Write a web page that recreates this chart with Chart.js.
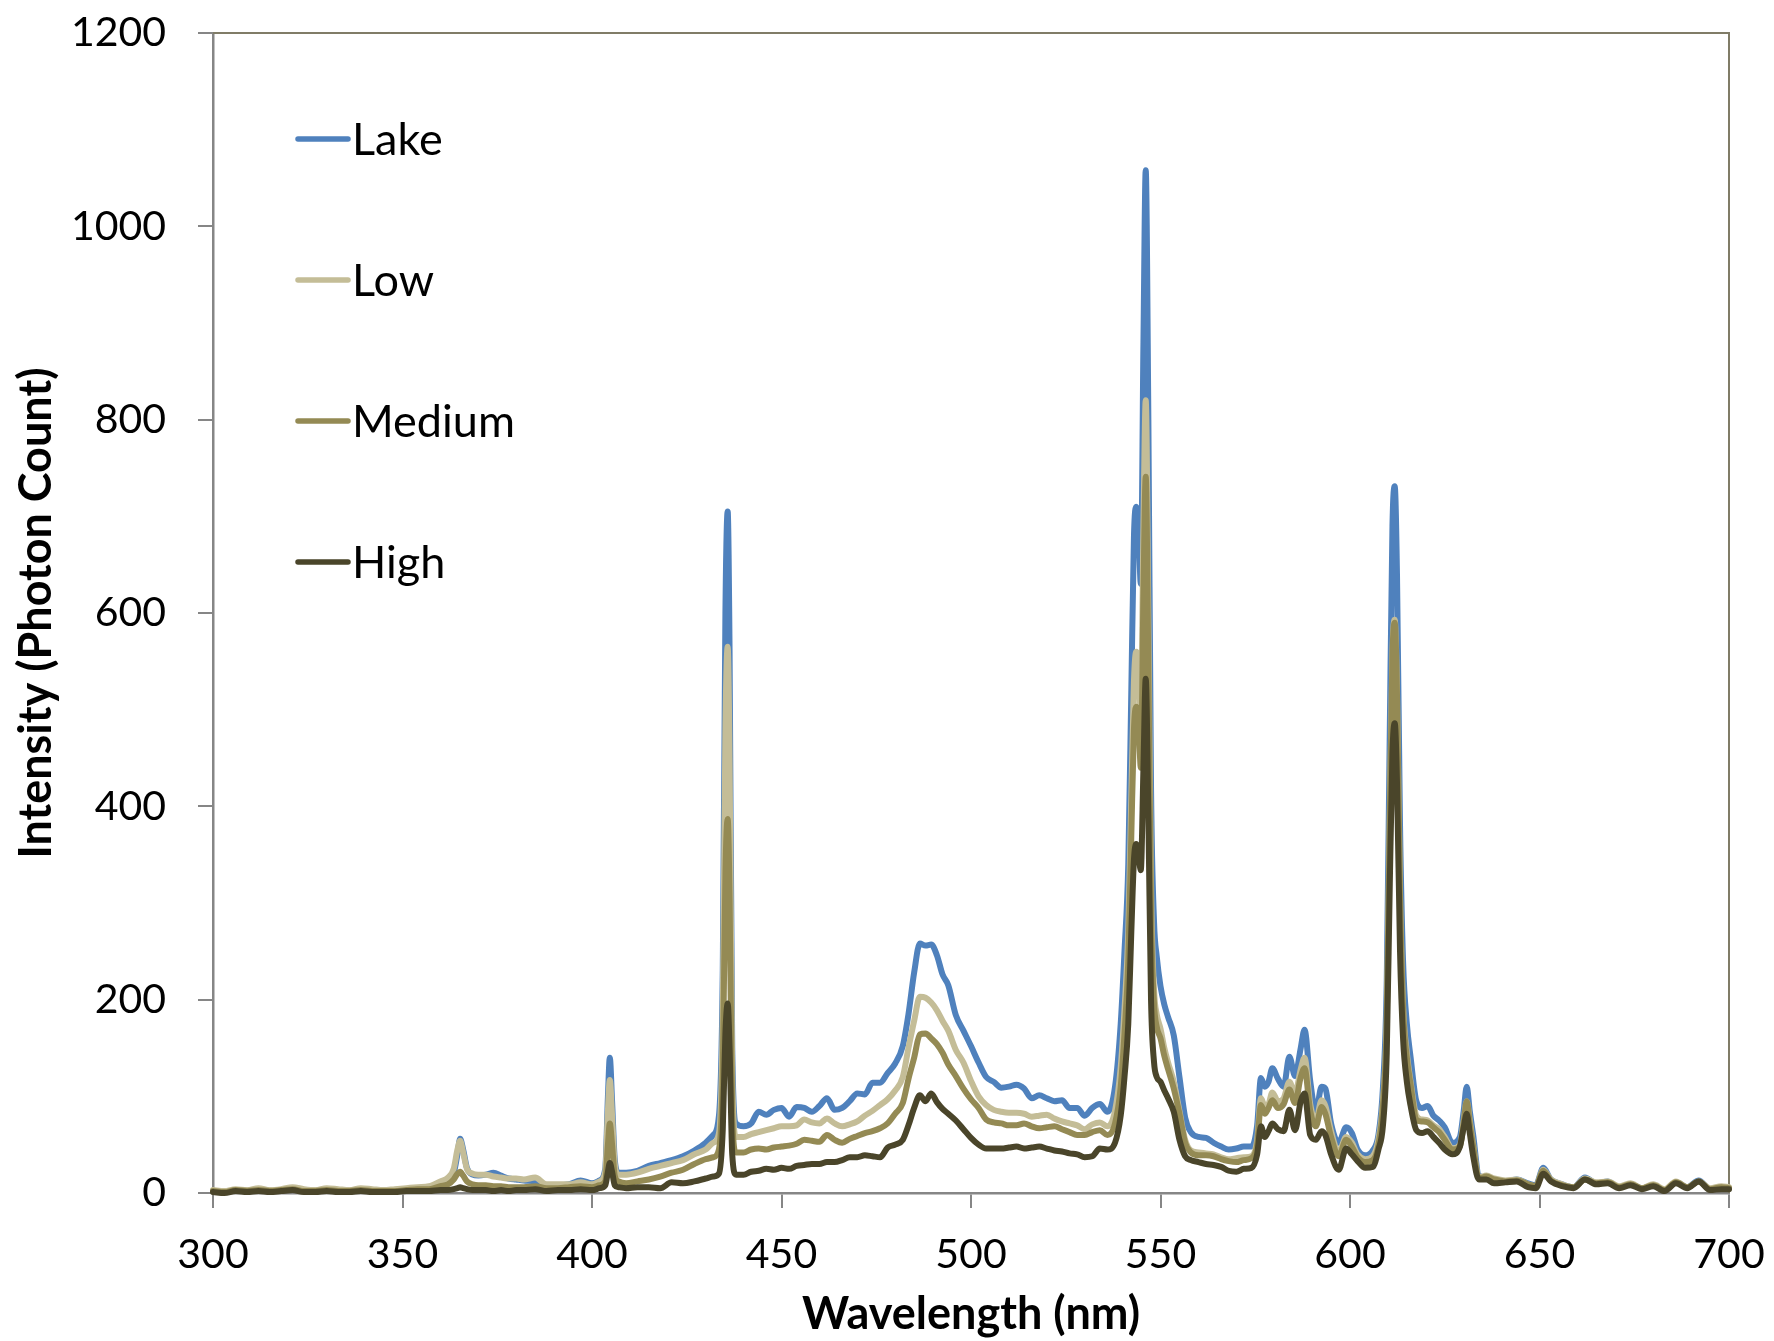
<!DOCTYPE html>
<html>
<head>
<meta charset="utf-8">
<script src="https://cdn.jsdelivr.net/npm/chart.js@4.4.1/dist/chart.umd.min.js"></script>
<style>
  html, body { margin: 0; padding: 0; background: #fff; }
</style>
</head>
<body>
<canvas id="spectrum" width="1774" height="1341"></canvas>
<script>
// wavelengths (nm), sampled denser around the emission lines
const wavelength = [
  300,303,306,309,312,315,318,321,324,327,330,333,336,339,342,345,348,351,354,
  357,360,362,363.5,364.5,365.2,366,367,368.5,370,372,374,376,378,380,382,385,388,391,394,397,400,402,
  403.5,404.2,404.7,405.3,406,407,409,412,415,418,421,424,427,430,432,433.5,434.5,435.2,435.8,436.3,437,438,
  440,442,444,446,448,450,452,454,456,458,460,462,464,466,468,470,472,474,476,478,480,482,
  483.5,485,486.5,488,489.5,491,492.5,494,496,498,500,502,504,506,508,510,512,514,516,518,520,522,524,526,528,530,532,534,536,538,
  539.5,540.5,541.5,542.3,543,543.6,544.2,544.8,545.5,546.1,546.8,547.5,548.3,549,550,551,552,553.5,555,556.5,558,560,562,564,566,568,570,572,574,
  575.5,576.5,577.5,578.5,579.5,581,582.5,584,585.5,587,588,589.5,591,592.5,593.5,595,597,599,600.5,602,604,606,607.5,
  608.7,609.7,610.5,611.2,611.8,612.4,613.2,614,615,616,617.5,619,620.5,622,623.5,625,627,629,630,630.8,631.6,632.5,634,
  636,638,641,644,647,649,651,653,656,659,662,665,668,671,674,677,680,683,686,689,692,695,698,700
];

const lake = [
  2,1,3,2,4,2,3,5,3,2,4,3,2,4,3,2,3,4,5,
  6,9,12,20,40,56,45,26,19,18,19,21,18,15,14,13,12,8,8,9,13,10,13,
  25,100,140,95,35,21,21,23,28,31,34,38,44,52,60,80,230,600,705,560,150,72,
  69,72,84,81,86,88,79,89,88,84,90,98,86,88,95,103,102,114,114,124,134,152,
  185,228,258,256,257,246,226,215,184,168,152,135,120,115,109,110,112,108,98,101,98,95,96,88,88,80,88,92,84,110,
  175,250,340,520,680,710,690,630,880,1058,800,420,280,245,214,195,182,163,120,78,63,58,57,52,48,45,46,48,48,
  70,119,110,115,129,118,110,141,121,150,169,116,84,110,108,72,52,68,62,45,39,44,60,
  110,220,480,690,731,640,380,240,175,140,95,88,90,80,75,68,52,58,85,110,85,60,18,
  16,13,12,14,10,8,26,14,9,6,16,10,12,6,9,5,8,3,11,6,13,4,6,5
];

const low = [
  3,2,4,3,5,3,4,6,4,3,5,4,3,5,4,3,4,5,6,
  7,12,16,25,45,54,42,25,20,19,19,17,16,15,15,14,16,9,9,9,11,9,12,
  22,85,117,80,30,19,19,21,25,28,31,34,40,45,52,62,180,480,565,450,120,58,
  58,61,63,65,67,69,69,70,76,73,72,77,72,69,71,74,80,85,91,97,106,120,
  150,178,203,202,197,189,178,168,148,135,116,100,91,86,84,83,83,82,79,80,81,77,74,72,70,66,71,73,69,85,
  130,190,270,410,530,560,545,480,690,820,600,320,210,185,170,150,135,115,85,55,44,42,41,40,37,35,36,37,38,
  55,98,90,92,104,95,98,115,103,128,140,92,74,96,90,64,42,58,52,40,35,38,55,
  95,180,390,560,593,520,310,195,145,115,80,76,75,70,66,58,46,50,75,95,75,50,16,
  18,15,13,14,9,7,24,14,9,6,15,11,12,7,10,5,9,4,12,6,12,5,7,6
];

const medium = [
  2,1,3,2,3,2,3,4,2,2,3,2,2,3,2,2,2,3,4,
  4,7,9,14,20,22,18,12,9,8,8,7,7,6,6,6,7,5,5,6,7,6,8,
  12,50,72,50,18,12,10,12,14,17,21,24,30,35,37,45,125,330,387,305,80,42,
  42,45,46,45,47,48,49,51,55,54,53,60,55,52,56,59,62,64,67,72,82,93,
  118,140,164,165,160,154,145,133,121,108,97,88,76,73,72,70,70,72,69,67,68,69,66,63,60,60,63,65,60,72,
  110,165,240,370,480,503,490,440,620,741,540,290,195,172,160,142,128,108,82,52,42,39,39,38,35,33,32,34,36,
  50,91,82,88,96,88,92,107,93,120,129,85,69,89,82,58,38,55,48,37,32,34,50,
  90,178,385,555,590,515,305,190,140,112,76,74,73,68,63,55,45,48,72,95,72,48,15,
  17,14,12,13,9,7,23,13,8,6,14,10,11,6,9,5,8,3,11,6,12,4,6,5
];

const high = [
  1,0,2,1,2,1,2,3,1,1,2,1,1,2,1,1,1,2,2,
  2,3,3,4,5,6,5,4,3,3,3,2,3,2,3,3,4,2,3,3,4,3,5,
  8,22,31,22,8,6,5,6,6,5,11,10,12,15,17,20,65,165,196,150,40,19,
  19,22,23,25,24,26,25,28,29,30,30,32,32,34,37,37,39,38,37,47,50,55,
  70,88,101,95,103,94,87,82,75,66,57,50,46,46,46,47,48,46,47,48,46,44,43,41,40,37,38,46,45,52,
  80,120,175,270,345,361,350,334,440,532,390,200,135,120,115,106,98,84,55,38,34,32,30,29,27,23,22,25,26,
  40,69,58,64,72,66,64,86,65,95,103,60,55,64,60,40,24,46,40,33,26,27,45,
  70,145,320,455,486,425,250,160,115,90,65,62,64,58,52,45,40,48,68,82,62,38,14,
  14,10,11,12,6,5,20,12,7,5,14,9,10,5,8,4,7,2,10,5,12,3,4,4
];

const seriesNames = ['Lake', 'Low', 'Medium', 'High'];
const xTicks = [300, 350, 400, 450, 500, 550, 600, 650, 700];
const yTicks = [0, 200, 400, 600, 800, 1000, 1200];

const colors = ['#4f81bd', '#c4bd97', '#948a54', '#4a452a'];
const axisGray = '#868686';

function pts(values) {
  return values.map((v, i) => ({ x: wavelength[i], y: v }));
}

// legend drawn inside the plot, one row per series
const inlineLegend = {
  id: 'inlineLegend',
  afterDatasetsDraw(chart) {
    const ctx = chart.ctx;
    ctx.save();
    ctx.font = '45px Lato';
    ctx.textBaseline = 'alphabetic';
    chart.data.datasets.forEach((ds, i) => {
      const y = 139 + i * 141;
      ctx.strokeStyle = ds.borderColor;
      ctx.lineWidth = 5.5;
      ctx.lineCap = 'round';
      ctx.beginPath();
      ctx.moveTo(298, y);
      ctx.lineTo(348, y);
      ctx.stroke();
      ctx.fillStyle = '#000';
      ctx.fillText(ds.label, 352, y + 16);
    });
    ctx.restore();
  }
};

// top and right edges of the plot area
const plotFrame = {
  id: 'plotFrame',
  beforeDatasetsDraw(chart) {
    const { ctx, chartArea: a } = chart;
    ctx.save();
    ctx.strokeStyle = '#807c67';
    ctx.lineWidth = 2;
    ctx.beginPath();
    ctx.moveTo(a.left, a.top);
    ctx.lineTo(a.right, a.top);
    ctx.lineTo(a.right, a.bottom);
    ctx.stroke();
    ctx.restore();
  }
};

Chart.defaults.font.family = 'Lato';
Chart.defaults.color = '#000';

const datasets = [lake, low, medium, high].map((vals, i) => ({
  label: seriesNames[i],
  data: pts(vals),
  borderColor: colors[i],
  backgroundColor: colors[i],
  borderWidth: 6,
  pointRadius: 0,
  cubicInterpolationMode: 'monotone',
  borderJoinStyle: 'round',
  borderCapStyle: 'round',
  clip: false,
  order: 4 - i
}));

new Chart(document.getElementById('spectrum'), {
  type: 'line',
  data: { datasets },
  plugins: [plotFrame, inlineLegend],
  options: {
    responsive: false,
    animation: false,
    events: [],
    layout: { padding: { left: 0, top: 33, right: 45, bottom: 0 } },
    plugins: {
      legend: { display: false },
      tooltip: { enabled: false }
    },
    scales: {
      x: {
        type: 'linear',
        min: 300,
        max: 700,
        afterBuildTicks: s => { s.ticks = xTicks.map(v => ({ value: v })); },
        afterFit: s => { s.height = 148; s.paddingLeft = 0; s.paddingRight = 0; },
        border: { color: axisGray, width: 2.5 },
        grid: { drawOnChartArea: false, drawTicks: true, tickLength: 15, color: axisGray, lineWidth: 2 },
        ticks: { font: { size: 41 }, padding: 22, maxRotation: 0, callback: v => String(v) },
        title: {
          display: true,
          text: 'Wavelength (nm)',
          font: { size: 45, weight: 'bold' },
          padding: { top: 0, bottom: 0 }
        }
      },
      y: {
        min: 0,
        max: 1200,
        afterBuildTicks: s => { s.ticks = yTicks.map(v => ({ value: v })); },
        afterFit: s => { s.width = 213; s.paddingTop = 0; s.paddingBottom = 0; },
        border: { color: axisGray, width: 2.5 },
        grid: { drawOnChartArea: false, drawTicks: true, tickLength: 15, color: axisGray, lineWidth: 2 },
        ticks: { font: { size: 41 }, padding: 32, callback: v => String(v) },
        title: {
          display: true,
          text: 'Intensity (Photon Count)',
          font: { size: 45, weight: 'bold' },
          padding: { top: 9, bottom: 0 }
        }
      }
    }
  }
});
</script>
</body>
</html>
